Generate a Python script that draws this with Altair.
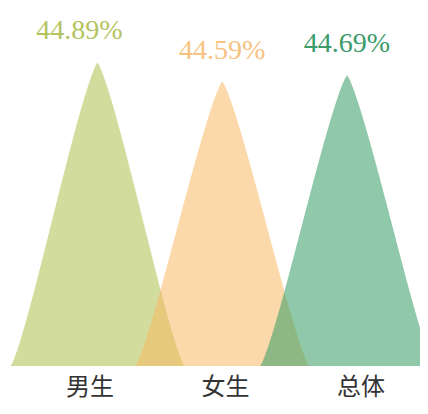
import altair as alt
import numpy as np
import pandas as pd

# ---- data ----
CATEGORIES = ["男生", "女生", "总体"]
VALUES = [44.89, 44.59, 44.69]

# ---- styling ----
FILL = ["#adbf4b", "#f8ba64", "#339d63"]
TEXT = ["#b3c35f", "#f6c27f", "#3b9b6a"]
OPACITY = 0.55
BASE = 40.1          # bottom of the value axis
TOP = 45.75          # top of the value axis
HALF = 0.697         # half width of each peak, in category units

t = np.linspace(-1, 1, 161)
profile = (1 - np.abs(t) ** 1.25) ** 1.25

rows = []
for i, (c, v) in enumerate(zip(CATEGORIES, VALUES)):
    for tt, p in zip(t, profile):
        rows.append({"cat": c, "x": i + tt * HALF, "y": BASE + (v - BASE) * p})
shape = pd.DataFrame(rows)

labels = pd.DataFrame({
    "cat": CATEGORIES,
    "idx": list(range(len(CATEGORIES))),
    "value": VALUES,
    "label": [f"{v:.2f}%" for v in VALUES],
})

xs = alt.Scale(domain=[-0.7174, 2.585], nice=False, zero=False)
ys = alt.Scale(domain=[BASE, TOP], nice=False, zero=False)
xs_cat = alt.Scale(domain=[-0.605, 2.4356], nice=False, zero=False)

layers = []
for i, c in enumerate(CATEGORIES):
    area = alt.Chart(shape).transform_filter(alt.datum.cat == c).mark_area(
        color=FILL[i], opacity=OPACITY, orient="vertical", clip=True
    ).encode(
        x=alt.X("x:Q", scale=xs, axis=None),
        y=alt.Y("y:Q", scale=ys, axis=None, stack=None),
        y2=alt.datum(BASE),
    )
    layers.append(area)

for i, c in enumerate(CATEGORIES):
    txt = alt.Chart(labels).transform_filter(alt.datum.cat == c).mark_text(
        font="Liberation Serif", fontSize=28, color=TEXT[i],
        baseline="middle", align="center", dy=-31, dx=(-18 if i == 0 else 0),
    ).encode(
        x=alt.X("idx:Q", scale=xs, axis=None),
        y=alt.Y("value:Q", scale=ys, axis=None),
        text="label:N",
    )
    layers.append(txt)

cat_text = alt.Chart(labels).mark_text(
    font="Noto Sans CJK SC", fontSize=24, color="#333333",
    baseline="middle", align="center",
).encode(
    x=alt.X("idx:Q", scale=xs_cat, axis=None),
    y=alt.value(380),
    text="cat:N",
)
layers.append(cat_text)

chart = alt.layer(*layers).resolve_scale(x="independent", y="independent").properties(
    width=412, height=358,
    padding={"left": 0, "top": 0, "right": 0, "bottom": 40},
    autosize=alt.AutoSizeParams(type="none"),
).configure_view(stroke=None)

chart.save("out.html", embed_options={"renderer": "svg", "actions": False})
